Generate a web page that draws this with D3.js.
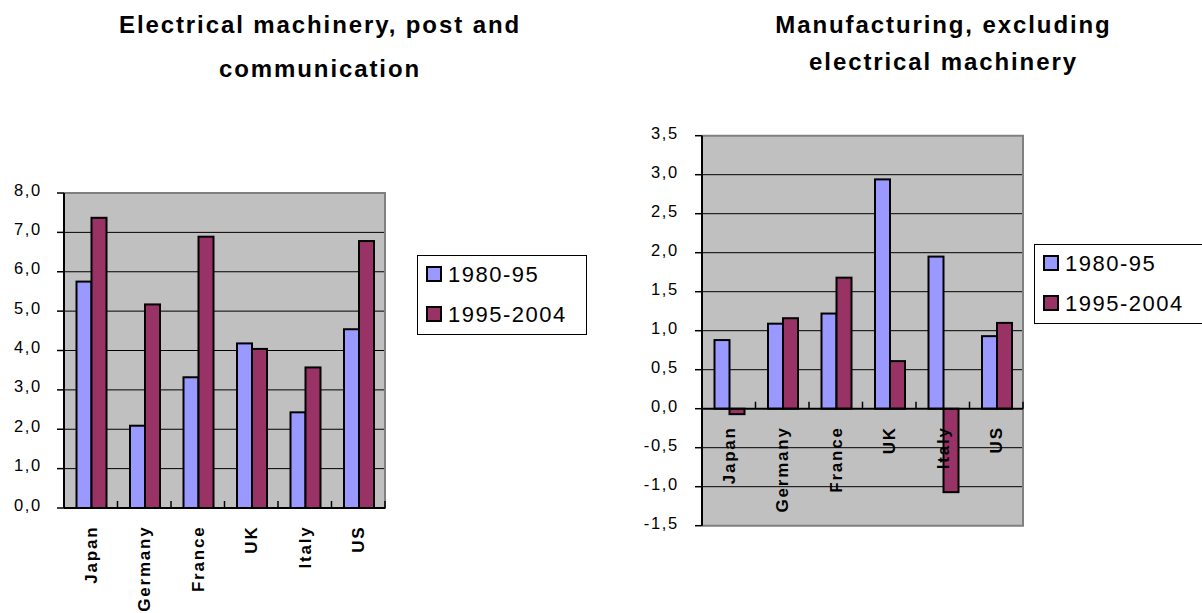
<!DOCTYPE html>
<html>
<head>
<meta charset="utf-8">
<script src="https://cdn.jsdelivr.net/npm/d3@7"></script>
<style>
  html, body { margin: 0; padding: 0; background: #ffffff; }
  svg { display: block; font-family: "Liberation Sans", Arial, sans-serif; }
</style>
</head>
<body>
<svg id="chart" width="1202" height="613"></svg>
<script>
// ---- Data ----
const categories = ["Japan", "Germany", "France", "UK", "Italy", "US"];
const seriesNames = ["1980-95", "1995-2004"];
const seriesColors = ["#9999FF", "#993366"];

const elecTitle = ["Electrical machinery, post and", "communication"];
const elec1980 = [5.75, 2.09, 3.32, 4.18, 2.43, 4.54];
const elec1995 = [7.37, 5.17, 6.89, 4.04, 3.57, 6.78];
const elecTicks = [0, 1, 2, 3, 4, 5, 6, 7, 8];

const manuTitle = ["Manufacturing, excluding", "electrical machinery"];
const manu1980 = [0.88, 1.09, 1.22, 2.94, 1.95, 0.93];
const manu1995 = [-0.07, 1.16, 1.68, 0.61, -1.07, 1.10];
const manuTicks = [-1.5, -1.0, -0.5, 0, 0.5, 1.0, 1.5, 2.0, 2.5, 3.0, 3.5];

const fmt = v => d3.format(".1f")(v).replace(".", ",").replace("−", "-");

const svg = d3.select("#chart");

function drawChart(opt) {
  const g = svg.append("g");
  const x = d3.scaleBand().domain(categories).range([opt.x0, opt.x1]).padding(0);
  const xs = d3.scaleBand().domain(seriesNames).range([12.5, 42.5]).padding(0);
  const y = d3.scaleLinear().domain(opt.domain).range([opt.yBottom, opt.yTop]);
  const [dmin, dmax] = opt.domain;

  // plot background
  g.append("rect")
    .attr("x", opt.x0).attr("y", y(dmax))
    .attr("width", opt.x1 - opt.x0).attr("height", y(dmin) - y(dmax))
    .attr("fill", "#C0C0C0");

  // gridlines
  g.selectAll(".grid").data(opt.ticks.filter(t => t !== dmin && t !== dmax && t !== 0))
    .join("line")
    .attr("x1", opt.x0).attr("x2", opt.x1)
    .attr("y1", d => y(d)).attr("y2", d => y(d))
    .attr("stroke", "#000").attr("stroke-width", 1);

  // plot border (top, right, bottom)
  g.append("path")
    .attr("d", `M${opt.x0},${y(dmax)}H${opt.x1}V${y(dmin)}H${opt.x0}`)
    .attr("fill", "none").attr("stroke", "#808080").attr("stroke-width", 2);

  // bars
  const data = [];
  categories.forEach((c, i) => {
    opt.series.forEach((s, j) => data.push({ c, s: seriesNames[j], v: s[i], j }));
  });
  g.selectAll(".bar").data(data).join("rect")
    .attr("x", d => x(d.c) + xs(d.s))
    .attr("width", xs.bandwidth())
    .attr("y", d => y(Math.max(0, d.v)))
    .attr("height", d => Math.abs(y(d.v) - y(0)))
    .attr("fill", d => seriesColors[d.j])
    .attr("stroke", "#000").attr("stroke-width", 2);

  // value axis
  g.append("line")
    .attr("x1", opt.x0).attr("x2", opt.x0)
    .attr("y1", y(dmax)).attr("y2", y(dmin))
    .attr("stroke", "#000").attr("stroke-width", 2);
  g.selectAll(".ytick").data(opt.ticks).join("line")
    .attr("x1", opt.x0 - 7).attr("x2", opt.x0)
    .attr("y1", d => y(d)).attr("y2", d => y(d))
    .attr("stroke", "#000").attr("stroke-width", 1.5);
  g.selectAll(".ylab").data(opt.ticks).join("text")
    .attr("x", opt.labelX).attr("y", d => y(d) + opt.labelDy)
    .attr("text-anchor", "end")
    .attr("font-size", 16.5).attr("letter-spacing", "1.7px")
    .attr("fill", "#000")
    .text(d => fmt(d));

  // category axis at zero
  g.append("line")
    .attr("x1", opt.x0).attr("x2", opt.x1)
    .attr("y1", y(0)).attr("y2", y(0))
    .attr("stroke", "#000").attr("stroke-width", 2);
  g.selectAll(".xtick").data(categories).join("line")
    .attr("x1", d => x(d) + x.bandwidth()).attr("x2", d => x(d) + x.bandwidth())
    .attr("y1", y(0)).attr("y2", y(0) - 7)
    .attr("stroke", "#000").attr("stroke-width", 1.5);
  g.selectAll(".xlab").data(categories).join("text")
    .attr("transform", d => `translate(${x(d) + x.bandwidth() / 2},${y(0) + 17.5}) rotate(-90)`)
    .attr("dy", "0.35em")
    .attr("text-anchor", "end")
    .attr("font-size", 17).attr("font-weight", "bold").attr("letter-spacing", "1.8px")
    .attr("fill", "#000")
    .text(d => d);

  // title
  opt.title.forEach((t, i) => {
    g.append("text")
      .attr("x", opt.titleX).attr("y", opt.titleY[i])
      .attr("text-anchor", "middle")
      .attr("font-size", 24).attr("font-weight", "bold").attr("letter-spacing", "1.9px")
      .attr("fill", "#000")
      .text(t);
  });

  // legend
  const lg = g.append("g");
  lg.append("rect")
    .attr("x", opt.legend.x + 0.5).attr("y", opt.legend.y + 0.5)
    .attr("width", 169).attr("height", 79)
    .attr("fill", "#fff").attr("stroke", "#000").attr("stroke-width", 1);
  seriesNames.forEach((s, i) => {
    const base = opt.legend.y + 27 + i * 40;
    lg.append("rect")
      .attr("x", opt.legend.x + 10).attr("y", base - 15)
      .attr("width", 14).attr("height", 14)
      .attr("fill", seriesColors[i]).attr("stroke", "#000").attr("stroke-width", 2);
    lg.append("text")
      .attr("x", opt.legend.x + 31).attr("y", base)
      .attr("font-size", 22).attr("letter-spacing", "1.5px")
      .attr("fill", "#000")
      .text(s);
  });
}

drawChart({
  x0: 64, x1: 385, yTop: 193, yBottom: 508, domain: [0, 8], ticks: elecTicks,
  series: [elec1980, elec1995], labelX: 42, labelDy: 2.5,
  title: elecTitle, titleX: 320, titleY: [33, 77],
  legend: { x: 417, y: 255 }
});

drawChart({
  x0: 702, x1: 1023, yTop: 135.7, yBottom: 525.7, domain: [-1.5, 3.5], ticks: manuTicks,
  series: [manu1980, manu1995], labelX: 679, labelDy: 3,
  title: manuTitle, titleX: 943.5, titleY: [33, 70],
  legend: { x: 1034, y: 244 }
});
</script>
</body>
</html>
